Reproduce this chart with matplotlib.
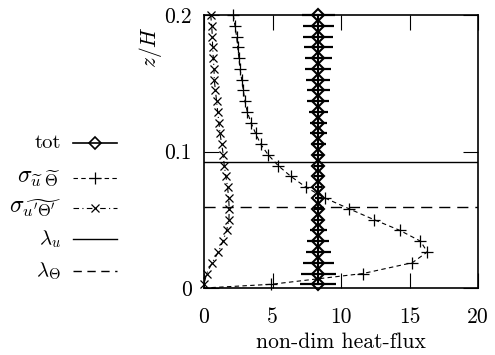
import matplotlib
matplotlib.use("Agg")
import matplotlib.pyplot as plt
from matplotlib.lines import Line2D

plt.rcParams['font.family'] = ['cmr10', 'DejaVu Serif']
plt.rcParams['mathtext.fontset'] = 'cm'
plt.rcParams['axes.unicode_minus'] = False

# ---- data ----
z = [0.2000, 0.1921, 0.1842, 0.1763, 0.1684, 0.1606, 0.1527, 0.1448, 0.1369,
     0.1290, 0.1211, 0.1132, 0.1053, 0.0974, 0.0895, 0.0817, 0.0738, 0.0659,
     0.0580, 0.0501, 0.0422, 0.0343, 0.0264, 0.0185, 0.0106, 0.0027]
tot = [8.35] * 26
tot_err = [1.22, 1.12, 1.09, 1.05, 0.97, 0.95, 0.87, 0.85, 0.80, 0.72, 0.64,
           0.60, 0.52, 0.40, 0.33, 0.30, 0.28, 0.28, 0.30, 0.35, 0.60, 0.80,
           0.92, 1.12, 1.25, 1.32]
z_s = z + [0.0]
sig_mean = [2.14, 2.26, 2.38, 2.46, 2.55, 2.63, 2.75, 2.87, 2.99, 3.16, 3.43,
            3.77, 4.14, 4.70, 5.43, 6.35, 7.45, 8.83, 10.6, 12.4, 14.3, 15.8,
            16.3, 15.2, 11.6, 4.9, 0.0]
sig_fluc = [0.49, 0.56, 0.61, 0.63, 0.68, 0.73, 0.75, 0.83, 0.92, 1.00, 1.09,
            1.17, 1.29, 1.41, 1.48, 1.60, 1.72, 1.80, 1.84, 1.82, 1.65, 1.38,
            1.05, 0.60, 0.19, 0.0]
lam_u = 0.0921
lam_T = 0.0596

xticks = [0, 5, 10, 15, 20]
xticklabels = ['0', '5', '10', '15', '20']
yticks = [0, 0.1, 0.2]
yticklabels = ['0', '0.1', '0.2']

labels = ['tot', r'$\sigma_{\widetilde{u}\ \widetilde{\Theta}}$',
          r"$\sigma_{\widetilde{u'\Theta'}}$", r'$\lambda_u$', r'$\lambda_\Theta$']
label_sizes = [15, 17, 17, 15, 15]

W, H = 495, 355
fig = plt.figure(figsize=(W / 100, H / 100), dpi=100)
ax = fig.add_axes([204 / W, 1 - 288 / H, 274 / W, 273 / H])

# tot with horizontal error bars
ax.errorbar(tot, z, xerr=tot_err, color='black', lw=1.5, elinewidth=1.6,
            capsize=0, marker='D', ms=6.5, mfc='none', mec='black', mew=1.5,
            clip_on=False, zorder=5)
# sigma mean
ax.plot(sig_mean, z_s, color='black', lw=0.8, dashes=(4, 3), marker='+',
        ms=8, mew=0.9, markevery=list(range(26)), clip_on=False)
# sigma fluct
ax.plot(sig_fluc, z, color='black', lw=0.8, dashes=(5, 3, 1, 3), marker='x',
        ms=6, mew=0.9, clip_on=False)
ax.axhline(lam_u, color='black', lw=1.0)
ax.axhline(lam_T, color='black', lw=1.0, dashes=(8, 5))

ax.set_xlim(0, 20)
ax.set_ylim(0, 0.2)
ax.set_xticks(xticks)
ax.set_xticklabels(xticklabels)
ax.set_yticks(yticks)
ax.set_yticklabels(yticklabels)
ax.tick_params(direction='in', length=10.5, width=0.8, top=True, right=True,
               labelsize=15.5, color='black')
ax.tick_params(axis='x', pad=14)
ax.tick_params(axis='y', pad=9)
for s in ax.spines.values():
    s.set_linewidth(1.2)

ax.set_xlabel('non-dim heat-flux', fontsize=15.5, labelpad=4)
fig.text(150 / W, 1 - 47 / H, r'$z/H$', rotation=90, fontsize=15.5,
         ha='center', va='center')

# manual legend (text left of sample)
leg_y = [143, 178, 208, 239, 271]
styles = [dict(lw=1.2, marker='D', ms=6, mfc='none', mew=1.2),
          dict(lw=0.8, dashes=(4, 3), marker='+', ms=8, mew=0.9),
          dict(lw=0.8, dashes=(5, 3, 1, 3), marker='x', ms=6, mew=0.9),
          dict(lw=1.0),
          dict(lw=1.0, dashes=(6, 4))]
for y, lab, st, fs in zip(leg_y, labels, styles, label_sizes):
    yf = 1 - y / H
    fig.text(61 / W, yf, lab, fontsize=fs, ha='right', va='center')
    ln = Line2D([73 / W, 95 / W, 117 / W], [yf, yf, yf], color='black',
                transform=fig.transFigure, markevery=[1], **st)
    fig.add_artist(ln)

fig.savefig('out.png', dpi=100)
